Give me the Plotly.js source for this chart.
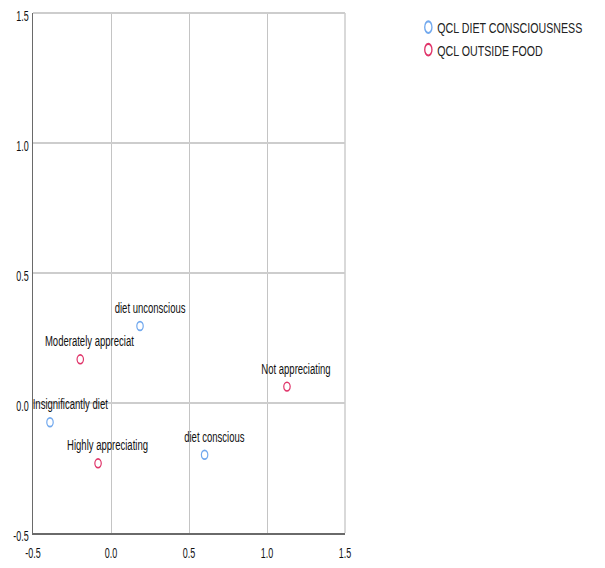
<!DOCTYPE html>
<html>
<head>
<meta charset="utf-8">
<script src="https://cdn.plot.ly/plotly-3.0.1.min.js"></script>
<style>html,body{margin:0;padding:0;background:#fff;}#chart{width:605px;height:568px;}</style>
</head>
<body>
<div id="chart"></div>
<script>
// Data
const dietLabels = ["diet unconscious", "Insignificantly diet", "diet conscious"];
const dietX = [0.186, -0.391, 0.600];
const dietY = [0.296, -0.074, -0.199];

const foodLabels = ["Moderately appreciat", "Not appreciating", "Highly appreciating"];
const foodX = [-0.197, 1.128, -0.083];
const foodY = [0.168, 0.063, -0.232];

const seriesNames = ["QCL DIET CONSCIOUSNESS", "QCL OUTSIDE FOOD"];
const tickVals = [-0.5, 0.0, 0.5, 1.0, 1.5];
const tickText = ["-0.5", "0.0", "0.5", "1.0", "1.5"];

const FONT = "'Liberation Sans', Arial, sans-serif";
const BLUE = "#72a9ee";
const RED = "#e0356a";

const traces = [
  {x: dietX, y: dietY, name: seriesNames[0], type: "scatter", mode: "markers",
   marker: {symbol: "circle-open", size: 8, color: BLUE, line: {width: 1.5, color: BLUE}}},
  {x: foodX, y: foodY, name: seriesNames[1], type: "scatter", mode: "markers",
   marker: {symbol: "circle-open", size: 8, color: RED, line: {width: 1.5, color: RED}}}
];

const annotations = [];
function addLabels(xs, ys, labels) {
  for (let i = 0; i < labels.length; i++) {
    const shift = labels[i] === "Insignificantly diet" ? 20 : 9.5;
    annotations.push({x: xs[i], y: ys[i], xref: "x", yref: "y", text: labels[i],
      showarrow: false, xshift: shift, yshift: 8, yanchor: "bottom",
      font: {family: FONT, size: 14, color: "#111"}});
  }
}
addLabels(dietX, dietY, dietLabels);
addLabels(foodX, foodY, foodLabels);

const layout = {
  width: 605, height: 568,
  margin: {l: 33, r: 260, t: 13, b: 35, autoexpand: false},
  paper_bgcolor: "#ffffff", plot_bgcolor: "#ffffff",
  font: {family: FONT, size: 14, color: "#111"},
  showlegend: true,
  legend: {x: 1.203, y: 1.004, xanchor: "left", yanchor: "top",
    font: {family: FONT, size: 15, color: "#222"}, itemwidth: 30, tracegroupgap: 0,
    bgcolor: "rgba(0,0,0,0)"},
  xaxis: {range: [-0.5, 1.5], tickvals: tickVals, ticktext: tickText,
    showgrid: true, gridcolor: "#c4c4c4", gridwidth: 1, zeroline: false,
    showline: true, linecolor: "#6a6a6a", linewidth: 2, ticks: "", ticklen: 0,
    ticklabelstandoff: 6,
    tickfont: {family: FONT, size: 14, color: "#111"}, fixedrange: true},
  yaxis: {range: [-0.5, 1.5], tickvals: tickVals, ticktext: tickText,
    showgrid: true, gridcolor: "#cdcdcd", gridwidth: 1.6, zeroline: false,
    showline: true, linecolor: "#6a6a6a", linewidth: 1.5, ticks: "", ticklen: 0,
    ticklabelshift: 3,
    tickfont: {family: FONT, size: 14, color: "#111"}, fixedrange: true},
  annotations: annotations,
  shapes: [
    {type: "line", xref: "paper", yref: "paper", x0: 0, x1: 1, y0: 1, y1: 1, line: {color: "#cdcdcd", width: 2}},
    {type: "line", xref: "paper", yref: "paper", x0: 1, x1: 1, y0: 0, y1: 1, line: {color: "#cdcdcd", width: 1.5}}
  ]
};

// horizontally condense text (reference text is narrow / vertically stretched)
function condense(nodes, s) {
  nodes.forEach(t => {
    const b = t.getBBox();
    const anchor = t.getAttribute("text-anchor") || "start";
    const cx = anchor === "middle" ? b.x + b.width / 2 : (anchor === "end" ? b.x + b.width : b.x);
    const tr = t.getAttribute("transform") || "";
    t.setAttribute("transform", tr + " translate(" + cx + ",0) scale(" + s + ",1) translate(" + (-cx) + ",0)");
  });
}
function stretchPaths(nodes, sx, sy) {
  nodes.forEach(p => {
    const tr = p.getAttribute("transform") || "";
    p.setAttribute("transform", tr + " scale(" + sx + "," + sy + ")");
  });
}

Plotly.newPlot("chart", traces, layout, {displayModeBar: false, staticPlot: true}).then(gd => {
  const root = document.getElementById("chart");
  condense(root.querySelectorAll(".annotation-text"), 0.68);
  condense(root.querySelectorAll(".xtick text, .ytick text"), 0.64);
  root.querySelectorAll(".legendtext").forEach(t => t.setAttribute("x", 29));
  condense(root.querySelectorAll(".legendtext"), 0.71);
  stretchPaths(root.querySelectorAll(".scatterlayer .points path"), 0.8, 1.1);
  stretchPaths(root.querySelectorAll(".legendpoints path"), 0.9, 1.45);
});
</script>
</body>
</html>
